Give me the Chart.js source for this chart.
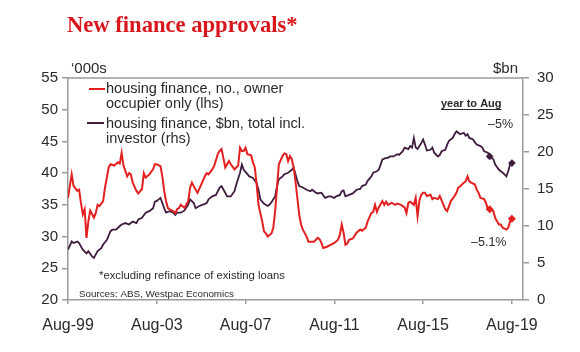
<!DOCTYPE html>
<html>
<head>
<meta charset="utf-8">
<script src="https://cdn.jsdelivr.net/npm/chart.js@4.4.0/dist/chart.umd.min.js"></script>
<style>
  html, body { margin: 0; padding: 0; background: #fff; }
  #chart { display: block; }
</style>
</head>
<body>
<canvas id="chart" width="580" height="352"></canvas>
<script>
// months counted from Aug-99 (0) to Aug-19 (240)
var tickMonths = [0, 48, 96, 144, 192, 240];
var tickLabels = ['Aug-99', 'Aug-03', 'Aug-07', 'Aug-11', 'Aug-15', 'Aug-19'];
var markerMonths = [228, 240];

// housing finance, no., owner occupier only ('000s, lhs)
var ownerMonths = [0, 2, 3, 5, 6, 7, 8, 9, 10, 11, 12, 14, 15, 16, 17, 19, 20, 22, 23, 25, 27, 28, 29, 30, 32, 33, 34, 35, 37, 38,
  40, 41, 42, 44, 46, 47, 48, 50, 51, 52, 53, 54, 55, 57, 58, 59, 60, 61, 63, 65, 66, 67, 69, 70, 72, 74, 75, 76, 78, 79,
  81, 82, 83, 84, 85, 86, 87, 88, 90, 92, 93, 94, 95, 96, 97, 99, 100, 101, 102, 103, 105, 106, 107, 108, 110, 111, 112, 113, 114, 116,
  117, 118, 119, 120, 121, 122, 123, 124, 125, 126, 127, 129, 130, 131, 133, 135, 136, 137, 138, 140, 142, 144, 146, 147, 148, 149, 150, 151, 152, 154,
  156, 158, 159, 161, 162, 164, 165, 166, 167, 168, 170, 171, 172, 173, 175, 177, 178, 180, 182, 183, 184, 185, 187, 188, 189, 190, 191, 192, 193, 194,
  196, 197, 198, 200, 201, 202, 203, 204, 205, 206, 207, 209, 210, 211, 212, 214, 215, 216, 217, 218, 220, 221, 222, 223, 225, 226, 227, 228, 230, 231,
  233, 234, 235, 237, 238, 239, 240];
var ownerValues = [36.1, 39.8, 38.0, 37.2, 37.4, 35.3, 33.5, 34.3, 29.8, 32.4, 34.1, 33.0, 33.7, 35.0, 34.8, 35.6, 37.7, 40.9, 41.4, 41.2, 41.7, 41.5, 43.2, 41.2, 39.5, 40.0, 39.8, 38.5, 37.2, 36.8,
  37.5, 40.0, 39.3, 39.8, 40.6, 41.4, 41.4, 41.1, 39.5, 37.2, 35.6, 34.5, 34.3, 34.0, 33.7, 34.3, 34.5, 35.0, 34.5, 35.6, 37.7, 38.5, 37.4, 36.9, 38.2, 39.5, 40.0, 39.8, 40.6, 41.1,
  43.0, 43.5, 43.8, 42.4, 40.9, 41.4, 41.9, 41.4, 40.6, 41.2, 44.0, 43.5, 43.5, 44.0, 43.0, 42.8, 41.7, 40.9, 38.2, 35.0, 32.4, 30.8, 30.5, 30.0, 30.5, 31.4, 34.0, 37.7, 41.4, 42.7,
  43.1, 43.0, 41.9, 42.7, 42.2, 40.9, 38.7, 36.1, 33.5, 31.9, 31.1, 30.0, 29.2, 29.2, 29.2, 29.8, 29.6, 29.0, 28.2, 28.4, 28.7, 29.0, 29.5, 30.3, 31.9, 30.6, 28.7, 28.9, 29.5, 29.7,
  30.6, 31.1, 30.9, 31.4, 32.4, 33.7, 33.9, 35.0, 33.9, 34.6, 35.6, 35.0, 35.5, 35.0, 35.3, 35.0, 35.2, 35.0, 34.6, 33.7, 35.3, 35.5, 35.0, 36.1, 33.2, 35.7, 36.6, 36.9, 36.9, 36.4,
  36.6, 35.9, 36.1, 35.9, 36.4, 35.7, 35.0, 34.3, 34.0, 34.8, 35.6, 36.4, 36.9, 37.7, 37.9, 38.5, 38.7, 39.5, 38.7, 38.5, 38.2, 37.4, 36.9, 36.1, 35.9, 35.3, 34.3, 34.3, 34.0, 32.9,
  31.9, 31.9, 31.4, 31.1, 31.4, 32.4, 32.8];

// housing finance, $bn, total incl. investor (rhs)
var totalMonths = [0, 2, 3, 5, 6, 8, 10, 11, 13, 14, 16, 18, 19, 21, 23, 24, 26, 28, 29, 31, 33, 35, 37, 38, 40, 42, 44, 46, 47, 48,
  50, 51, 52, 53, 55, 57, 58, 59, 61, 63, 65, 66, 68, 69, 71, 73, 75, 76, 78, 80, 82, 83, 85, 86, 88, 90, 91, 93, 94, 95,
  97, 98, 100, 102, 103, 104, 106, 108, 109, 110, 112, 113, 114, 116, 117, 119, 121, 122, 123, 124, 125, 127, 129, 131, 132, 134, 135, 137, 139, 141,
  142, 144, 145, 147, 148, 149, 150, 152, 154, 156, 158, 159, 161, 162, 164, 165, 167, 168, 169, 170, 172, 173, 174, 176, 178, 179, 181, 182, 184, 185,
  186, 187, 188, 189, 191, 192, 193, 194, 196, 197, 198, 200, 201, 202, 204, 205, 206, 208, 209, 210, 211, 212, 214, 215, 216, 217, 219, 220, 221, 223,
  224, 225, 227, 228, 230, 231, 233, 234, 235, 237, 238, 239, 240];
var totalValues = [6.8, 7.9, 7.7, 7.9, 7.7, 6.8, 6.3, 6.6, 5.9, 5.7, 6.6, 7.0, 7.5, 8.1, 9.3, 9.5, 9.5, 10.0, 10.2, 10.4, 10.2, 10.6, 10.4, 10.9, 11.1, 11.8, 12.0, 12.4, 13.3, 13.4,
  13.8, 13.1, 12.4, 11.8, 12.0, 11.8, 11.5, 11.8, 11.8, 12.1, 12.9, 13.6, 13.1, 12.4, 12.7, 12.9, 13.1, 13.6, 14.0, 14.2, 15.2, 15.4, 14.5, 14.0, 14.0, 14.7, 15.6, 17.2, 18.3, 17.6,
  17.0, 16.7, 16.5, 15.8, 14.9, 13.6, 13.0, 12.7, 12.9, 13.2, 14.0, 15.4, 16.3, 16.7, 17.0, 17.2, 17.6, 17.9, 17.0, 16.1, 15.4, 15.2, 14.9, 14.7, 14.9, 14.5, 14.4, 14.5, 13.8, 14.0,
  14.0, 13.8, 14.0, 14.2, 14.7, 14.8, 14.0, 14.2, 14.4, 14.9, 15.0, 15.4, 15.6, 16.1, 16.7, 17.2, 17.4, 17.6, 18.3, 19.0, 19.2, 19.2, 19.4, 19.4, 19.7, 19.6, 20.1, 20.6, 20.4, 20.8,
  20.6, 21.9, 20.6, 20.4, 21.2, 21.7, 21.0, 20.2, 20.3, 20.6, 19.9, 19.4, 19.6, 20.1, 20.3, 21.0, 21.5, 21.9, 22.4, 22.8, 22.6, 22.4, 22.6, 22.2, 22.4, 21.9, 21.7, 21.3, 21.0, 20.8,
  20.6, 20.1, 19.9, 19.4, 19.0, 18.3, 17.6, 17.4, 17.2, 16.7, 17.4, 18.3, 18.5];

var RED = '#e3201f';
var PURPLE = '#3e1d3f';
var AXIS = '#9a9a9a';
var TEXT = '#2a2a2a';

function toPoints(months, values) {
  return months.map(function (m, i) { return { x: m, y: values[i] }; });
}

function markerRadius(ctx) {
  return ctx.raw && markerMonths.indexOf(ctx.raw.x) >= 0 ? 2.6 : 0;
}

// text, key and frame drawn on top of the chart
var decorations = {
  id: 'decorations',
  afterDraw: function (chart) {
    var c = chart.ctx, a = chart.chartArea;
    c.save();

    // top frame line
    c.strokeStyle = AXIS;
    c.lineWidth = 1.5;
    c.beginPath();
    c.moveTo(a.left, a.top);
    c.lineTo(a.right, a.top);
    c.stroke();

    // title
    c.fillStyle = '#d9161c';
    c.font = 'bold 22.6px "Liberation Serif", "Times New Roman", serif';
    c.textBaseline = 'alphabetic';
    c.textAlign = 'left';
    c.fillText('New finance approvals*', 67, 32);

    // units
    c.fillStyle = TEXT;
    c.font = '15px "Liberation Sans", Arial, sans-serif';
    c.fillText('\u2018000s', 71, 73);
    c.textAlign = 'right';
    c.fillText('$bn', 518, 73);

    // key
    c.textAlign = 'left';
    c.font = '14.5px "Liberation Sans", Arial, sans-serif';
    c.lineWidth = 2;
    c.strokeStyle = RED;
    c.beginPath(); c.moveTo(89, 89); c.lineTo(105, 89); c.stroke();
    c.fillText('housing finance, no., owner', 106, 93);
    c.fillText('occupier only (lhs)', 106, 108);
    c.strokeStyle = PURPLE;
    c.beginPath(); c.moveTo(87, 123); c.lineTo(104, 123); c.stroke();
    c.fillText('housing finance, $bn, total incl.', 106, 128);
    c.fillText('investor (rhs)', 106, 143);

    // year to Aug
    c.font = 'bold 11px "Liberation Sans", Arial, sans-serif';
    c.fillText('year to Aug', 441, 107);
    var w = c.measureText('year to Aug').width;
    c.lineWidth = 1;
    c.strokeStyle = TEXT;
    c.beginPath(); c.moveTo(441, 109.5); c.lineTo(441 + w, 109.5); c.stroke();

    c.font = '12.5px "Liberation Sans", Arial, sans-serif';
    c.fillText('\u20135%', 488, 128);
    c.fillText('\u20135.1%', 471, 246);

    // notes
    c.font = '11.3px "Liberation Sans", Arial, sans-serif';
    c.fillText('*excluding refinance of existing loans', 99, 279);
    c.font = '9.8px "Liberation Sans", Arial, sans-serif';
    c.fillText('Sources: ABS, Westpac Economics', 79, 297);

    c.restore();
  }
};

new Chart(document.getElementById('chart'), {
  type: 'line',
  data: {
    datasets: [
      {
        label: 'housing finance, no., owner occupier only (lhs)',
        data: toPoints(ownerMonths, ownerValues),
        yAxisID: 'yL',
        borderColor: RED,
        backgroundColor: RED,
        borderWidth: 2,
        pointRadius: markerRadius,
        pointStyle: 'rectRot',
        tension: 0
      },
      {
        label: 'housing finance, $bn, total incl. investor (rhs)',
        data: toPoints(totalMonths, totalValues),
        yAxisID: 'yR',
        borderColor: PURPLE,
        backgroundColor: PURPLE,
        borderWidth: 1.8,
        pointRadius: markerRadius,
        pointStyle: 'rectRot',
        tension: 0
      }
    ]
  },
  options: {
    responsive: false,
    animation: false,
    devicePixelRatio: 1,
    layout: { padding: { top: 78, bottom: 12, left: 0, right: 0 } },
    plugins: {
      legend: { display: false },
      tooltip: { enabled: false }
    },
    scales: {
      x: {
        type: 'linear',
        min: 0,
        max: 246,
        afterBuildTicks: function (scale) {
          scale.ticks = tickMonths.map(function (m) { return { value: m }; });
        },
        afterFit: function (scale) { scale.height = 40; },
        ticks: {
          autoSkip: false,
          maxRotation: 0,
          padding: 12,
          color: TEXT,
          font: { family: '"Liberation Sans", Arial, sans-serif', size: 16 },
          callback: function (v) { return tickLabels[tickMonths.indexOf(v)]; }
        },
        grid: { drawOnChartArea: false, drawTicks: true, tickLength: 4, color: AXIS, lineWidth: 1.5 },
        border: { color: AXIS, width: 1.5 }
      },
      yL: {
        position: 'left',
        min: 20,
        max: 55,
        afterFit: function (scale) { scale.width = 68; },
        ticks: {
          stepSize: 5,
          padding: 4,
          color: TEXT,
          font: { family: '"Liberation Sans", Arial, sans-serif', size: 15 }
        },
        grid: { drawOnChartArea: false, drawTicks: true, tickLength: 6, color: AXIS, lineWidth: 1.5 },
        border: { color: AXIS, width: 1.5 }
      },
      yR: {
        position: 'right',
        min: 0,
        max: 30,
        afterFit: function (scale) { scale.width = 57; },
        ticks: {
          stepSize: 5,
          padding: 8,
          color: TEXT,
          font: { family: '"Liberation Sans", Arial, sans-serif', size: 15 }
        },
        grid: { drawOnChartArea: false, drawTicks: true, tickLength: 6, color: AXIS, lineWidth: 1.5 },
        border: { color: AXIS, width: 1.5 }
      }
    }
  },
  plugins: [decorations]
});
</script>
</body>
</html>
